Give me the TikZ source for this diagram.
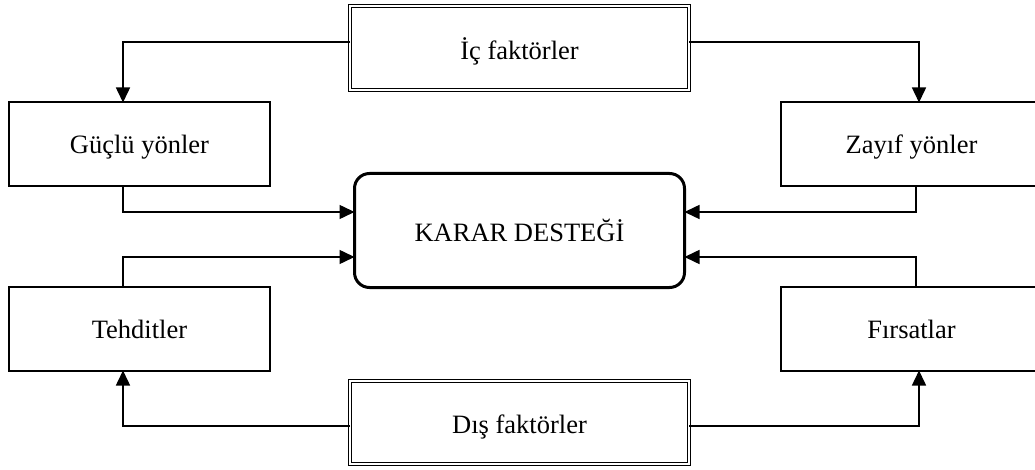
\documentclass[tikz,border=0pt]{standalone}
\usepackage{fontspec}
\setmainfont{Liberation Serif}
\usetikzlibrary{arrows.meta}
\begin{document}
\begin{tikzpicture}[x=1pt,y=-1pt,
  every node/.style={inner sep=0pt, outer sep=0pt, text height=19pt, text depth=0pt,
                     font=\fontsize{26.5}{32}\selectfont},
  swotbox/.style={draw, line width=2pt, minimum width=261pt, minimum height=84pt},
  factorbox/.style={draw, line width=1.1pt, double=white, double distance=1.6pt,
                    minimum width=339pt, minimum height=84pt},
  centerbox/.style={draw, line width=3pt, rounded corners=15pt,
                    minimum width=330pt, minimum height=114pt},
  link/.style={line width=1.5pt, -{Triangle[length=15pt,width=14pt]}}
]
\path[use as bounding box, clip] (0,0) rectangle (1035,470);

% factor boxes (top and bottom)
\node[factorbox, text height=24pt] (ic)  at (519.5,48)    {İç faktörler};
\node[factorbox, text height=21pt, minimum height=83pt] (dis) at (519.5,422.5) {Dış faktörler};

% SWOT boxes
\node[swotbox] (guc) at (139.5,144.5) {Güçlü yönler};
\node[swotbox] (zay) at (911.5,144.5) {Zayıf yönler};
\node[swotbox] (teh) at (139.5,328.5) {Tehditler};
\node[swotbox] (fir) at (911.5,328.5) {Fırsatlar};

% decision support
\node[centerbox, text height=21pt] (karar) at (519.5,230.5) {KARAR DESTEĞİ};

% internal factors feed strengths and weaknesses
\draw[link] ([yshift=6pt]ic.west) -| ([xshift=-16.5pt]guc.north);
\draw[link] ([yshift=6pt]ic.east) -| ([xshift=7.5pt]zay.north);

% external factors feed threats and opportunities
\draw[link] ([yshift=-3.5pt]dis.west) -| ([xshift=-16.5pt]teh.south);
\draw[link] ([yshift=-3.5pt]dis.east) -| ([xshift=7.5pt]fir.south);

% all four feed the decision
\draw[link] ([xshift=-16.5pt]guc.south) |- ([yshift=18.5pt]karar.west);
\draw[link] ([xshift=4.5pt]zay.south)   |- ([yshift=18.5pt]karar.east);
\draw[link] ([xshift=-16.5pt]teh.north) |- ([yshift=-26.5pt]karar.west);
\draw[link] ([xshift=4.5pt]fir.north)   |- ([yshift=-26.5pt]karar.east);
\end{tikzpicture}
\end{document}
